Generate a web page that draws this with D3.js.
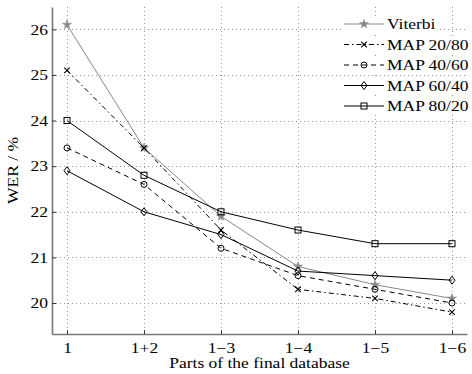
<!DOCTYPE html>
<html>
<head>
<meta charset="utf-8">
<script src="https://cdn.jsdelivr.net/npm/d3@7"></script>
<style>
  body { margin: 0; background: #fff; }
</style>
</head>
<body>
<svg id="chart" width="472" height="374"></svg>
<script>
// data
const categories = ["1", "1+2", "1\u22123", "1\u22124", "1\u22125", "1\u22126"];
const seriesNames = ["Viterbi", "MAP 20/80", "MAP 40/60", "MAP 60/40", "MAP 80/20"];
const viterbi = [26.1, 23.4, 21.9, 20.8, 20.4, 20.1];
const map2080 = [25.1, 23.4, 21.6, 20.3, 20.1, 19.8];
const map4060 = [23.4, 22.6, 21.2, 20.6, 20.3, 20.0];
const map6040 = [22.9, 22.0, 21.5, 20.7, 20.6, 20.5];
const map8020 = [24.0, 22.8, 22.0, 21.6, 21.3, 21.3];
const yTicks = [20, 21, 22, 23, 24, 25, 26];

const seriesValues = [viterbi, map2080, map4060, map6040, map8020];
const styles = [
  { color: "#888", dash: null, marker: "star" },
  { color: "#000", dash: "5,3,1.5,3", marker: "cross" },
  { color: "#000", dash: "5,4", marker: "circle" },
  { color: "#000", dash: null, marker: "diamond" },
  { color: "#000", dash: null, marker: "square" }
];

const FONT = '"Liberation Serif", "Times New Roman", serif';
const FS = 14;      // font size
const SX = 1.25;    // the reference text is wider than it is tall

const svg = d3.select("#chart");
const plotLeft = 52, plotRight = 467, plotTop = 7, plotBottom = 334;

const x = d3.scaleLinear().domain([-0.195, categories.length - 1 + 0.195]).range([plotLeft, plotRight]);
const y = d3.scaleLinear().domain([19.32, 26.49]).range([plotBottom, plotTop]);

function styleText(t) {
  t.style("font-family", FONT).style("font-size", FS + "px").attr("fill", "#000");
}

// grid
const grid = svg.append("g").attr("stroke", "#999").attr("stroke-width", 1).attr("stroke-dasharray", "1,3");
grid.selectAll(".vg").data(categories).enter().append("line")
  .attr("x1", (d, i) => Math.round(x(i)) + 0.5).attr("x2", (d, i) => Math.round(x(i)) + 0.5)
  .attr("y1", plotTop).attr("y2", plotBottom);
grid.selectAll(".hg").data(yTicks).enter().append("line")
  .attr("y1", d => Math.round(y(d)) + 0.5).attr("y2", d => Math.round(y(d)) + 0.5)
  .attr("x1", plotLeft).attr("x2", plotRight);

// axes
const xAxis = d3.axisBottom(x).tickValues(d3.range(categories.length))
  .tickFormat(i => categories[i]).tickSizeInner(-4).tickSizeOuter(0).tickPadding(9);
const yAxis = d3.axisLeft(y).tickValues(yTicks).tickSizeInner(-4).tickSizeOuter(0).tickPadding(3.3);

const gx = svg.append("g").attr("transform", `translate(0,${plotBottom})`).call(xAxis);
const gy = svg.append("g").attr("transform", `translate(${plotLeft},0)`).call(yAxis);
[gx, gy].forEach(g => {
  g.attr("font-family", null).attr("font-size", null);
  g.select(".domain").attr("stroke", "#777").attr("stroke-width", 1.6);
  g.selectAll(".tick line").attr("stroke", "#333");
  g.selectAll(".tick text").call(styleText).attr("transform", `scale(${SX},1)`);
});
gy.selectAll(".tick text").attr("dy", "0.34em");

svg.append("text").attr("transform", `translate(${(plotLeft + plotRight) / 2},368) scale(${SX},1)`)
  .attr("text-anchor", "middle").call(styleText).text("Parts of the final database");
svg.append("text").attr("transform", `translate(18,${(plotTop + plotBottom) / 2}) rotate(-90) scale(${SX},1)`)
  .attr("text-anchor", "middle").call(styleText).text("WER / %");

// marker drawing
function drawMarker(g, type, color) {
  const s = 3;
  if (type === "star") {
    g.append("path").attr("d", d3.symbol(d3.symbolStar, 26)()).attr("fill", color).attr("stroke", color).attr("stroke-width", 0.5);
  } else if (type === "cross") {
    g.append("path").attr("d", `M${-2.8},${-2.8}L${2.8},${2.8}M${-2.8},${2.8}L${2.8},${-2.8}`).attr("stroke", color).attr("stroke-width", 1.1);
  } else if (type === "circle") {
    g.append("circle").attr("r", s).attr("fill", "none").attr("stroke", color);
  } else if (type === "diamond") {
    g.append("path").attr("d", `M0,${-s - 1}L${s},0L0,${s + 1}L${-s},0Z`).attr("fill", "none").attr("stroke", color);
  } else if (type === "square") {
    g.append("rect").attr("x", -s).attr("y", -s).attr("width", 2 * s).attr("height", 2 * s).attr("fill", "none").attr("stroke", color);
  }
}

const line = d3.line().x((d, i) => x(i)).y(d => y(d));

seriesValues.forEach((vals, k) => {
  const st = styles[k];
  svg.append("path").datum(vals).attr("d", line)
    .attr("fill", "none").attr("stroke", st.color).attr("stroke-width", 1)
    .attr("stroke-dasharray", st.dash);
  vals.forEach((v, i) => {
    const g = svg.append("g").attr("transform", `translate(${x(i)},${y(v)})`);
    drawMarker(g, st.marker, st.color);
  });
});

// legend
const legend = svg.append("g").attr("transform", "translate(344,24)");
seriesNames.forEach((name, k) => {
  const st = styles[k];
  const row = legend.append("g").attr("transform", `translate(0,${k * 20.5})`);
  const bg = row.append("rect").attr("fill", "#fff");
  row.append("line").attr("x1", 0).attr("x2", 40).attr("y1", 0).attr("y2", 0)
    .attr("stroke", st.color).attr("stroke-width", 1).attr("stroke-dasharray", st.dash);
  const m = row.append("g").attr("transform", "translate(20,0)");
  drawMarker(m, st.marker, st.color);
  const t = row.append("text").attr("transform", `translate(43,5) scale(${SX},1)`).call(styleText).text(name);
  const w = t.node().getComputedTextLength() * SX;
  bg.attr("x", -1).attr("y", -8).attr("width", 45 + w).attr("height", 16);
});
</script>
</body>
</html>
